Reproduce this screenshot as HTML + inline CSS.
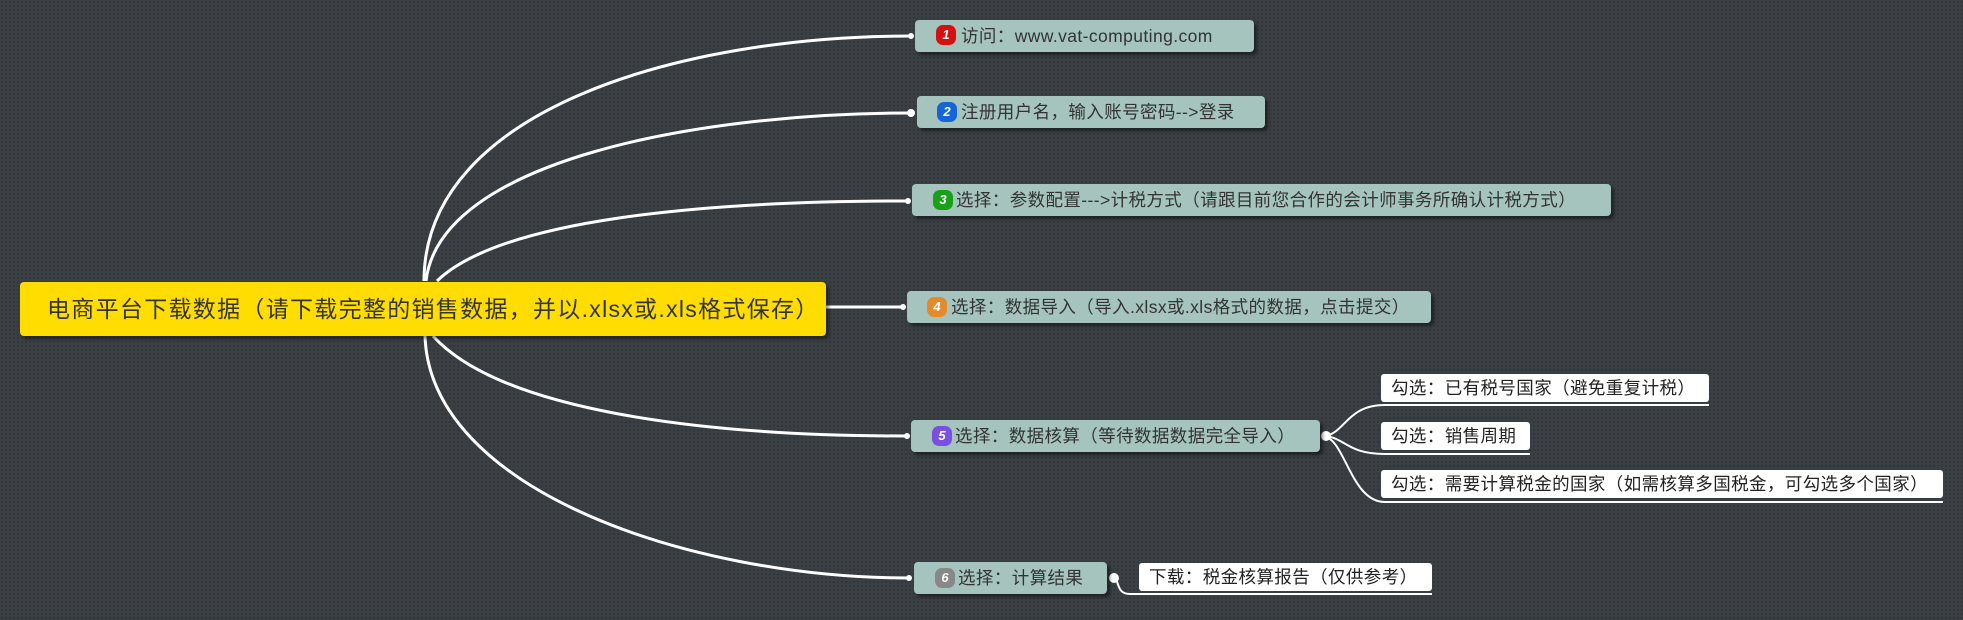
<!DOCTYPE html>
<html><head><meta charset="utf-8">
<style>
body{margin:0;width:1963px;height:620px;overflow:hidden;background-color:#3a3f43;background-image:radial-gradient(#33383c 1px,transparent 1.2px);background-size:4px 4px;font-family:"Liberation Sans","Noto Sans CJK SC",sans-serif;position:relative}
.n{position:absolute;background:#a4c4bd;border-radius:4px;box-shadow:3px 3px 3px rgba(0,0,0,.45);color:#333;font-size:17.5px;letter-spacing:0.4px;line-height:32px;height:32px;white-space:nowrap;box-sizing:border-box;padding-left:30px}
.b{position:absolute;left:8px;top:6px;width:20px;height:20px;border-radius:7px;color:#fff;font-size:13px;font-style:italic;font-weight:bold;line-height:20px;text-align:center;letter-spacing:0}
.s{position:absolute;background:#fff;border-radius:3px;color:#222;font-size:17.5px;letter-spacing:0.4px;line-height:28px;height:28px;white-space:nowrap;padding-left:10px;box-sizing:border-box}
svg{position:absolute;left:0;top:0}
</style></head><body>
<svg width="1963" height="620">
<g fill="none" stroke="#fff" stroke-width="3">
<path d="M424,281 C424,110 680,36 911,36"/>
<path d="M426,281 C440,160 700,113 911,113"/>
<path d="M437,281 C500,220 700,201 908,201"/>
<path d="M826,307 L903,307"/>
<path d="M433,336 C500,410 700,436 907,436"/>
<path d="M425,336 C430,490 690,578 909,578"/>
</g>
<g fill="none" stroke="#fff" stroke-width="2">
<path d="M1322,436 C1345,436 1345,405 1385,405 L1709,405"/>
<path d="M1322,436 C1345,436 1345,454 1385,454 L1530,454"/>
<path d="M1322,436 C1345,436 1350,502 1385,502 L1943,502"/>
<path d="M1113,578 C1120,578 1115,594 1130,594 L1432,594"/>
</g>
<g fill="#fff"><circle cx="911" cy="36" r="3"/><circle cx="911" cy="113" r="4"/><circle cx="908" cy="201" r="3"/><circle cx="903" cy="307" r="3"/><circle cx="907" cy="436" r="3"/><circle cx="909" cy="578" r="3"/><circle cx="1326" cy="436" r="5"/><circle cx="1114" cy="578" r="5"/></g>
</svg>
<div style="position:absolute;left:20px;top:282px;width:806px;height:54px;background:#ffdd00;border-radius:4px;box-shadow:3px 3px 3px rgba(0,0,0,.4);color:#333;font-size:23px;letter-spacing:1.3px;line-height:54px;padding-left:27px;box-sizing:border-box;white-space:nowrap">电商平台下载数据（请下载完整的销售数据，并以.xlsx或.xls格式保存）</div>
<div class="n" style="left:915px;top:20px;width:339px"><span class="b" style="background:#d41010;top:5px;left:21px">1</span><span style="margin-left:16px">访问：www.vat-computing.com</span></div>
<div class="n" style="left:917px;top:96px;width:348px"><span class="b" style="background:#1565d8;left:20px">2</span><span style="margin-left:14px">注册用户名，输入账号密码--&gt;登录</span></div>
<div class="n" style="left:912px;top:184px;width:699px"><span class="b" style="background:#18a018;left:21px">3</span><span style="margin-left:14px">选择：参数配置---&gt;计税方式（请跟目前您合作的会计师事务所确认计税方式）</span></div>
<div class="n" style="left:907px;top:291px;width:524px"><span class="b" style="background:#e58a2c;left:20px">4</span><span style="margin-left:14px">选择：数据导入（导入.xlsx或.xls格式的数据，点击提交）</span></div>
<div class="n" style="left:911px;top:420px;width:409px"><span class="b" style="background:#7b4fe0;left:21px">5</span><span style="margin-left:14px">选择：数据核算（等待数据数据完全导入）</span></div>
<div class="n" style="left:914px;top:562px;width:193px"><span class="b" style="background:#888;left:21px">6</span><span style="margin-left:14px">选择：计算结果</span></div>
<div class="s" style="left:1381px;top:374px;width:328px">勾选：已有税号国家（避免重复计税）</div>
<div class="s" style="left:1381px;top:422px;width:149px">勾选：销售周期</div>
<div class="s" style="left:1381px;top:470px;width:562px">勾选：需要计算税金的国家（如需核算多国税金，可勾选多个国家）</div>
<div class="s" style="left:1139px;top:563px;width:293px">下载：税金核算报告（仅供参考）</div>
</body></html>
